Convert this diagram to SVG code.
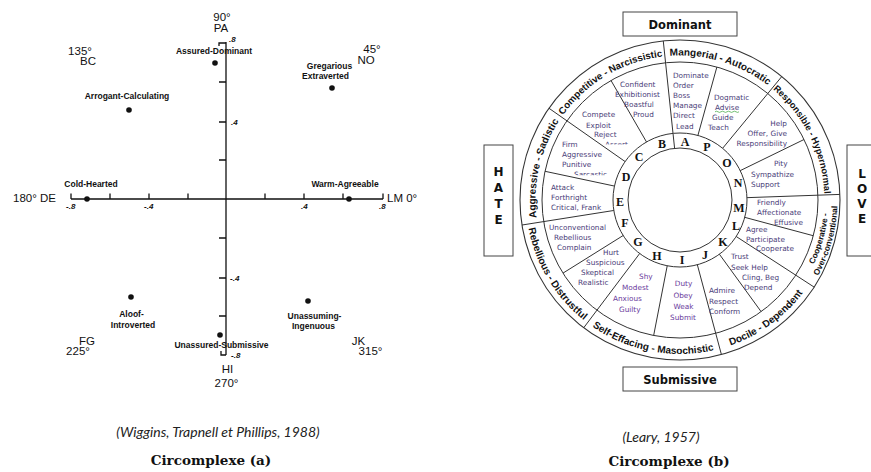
<svg xmlns="http://www.w3.org/2000/svg" width="871" height="472" viewBox="0 0 871 472">
<style>
.bg{fill:#fff}
.ax{stroke:#111;stroke-width:1.3;fill:none}
.dot{fill:#111}
.lb{font-family:"Liberation Sans",Arial,sans-serif;font-size:8.5px;font-weight:bold;fill:#111;text-anchor:middle}
.dg{font-family:"Liberation Sans",Arial,sans-serif;font-size:11.5px;fill:#111;text-anchor:middle}
.tk{font-family:"Liberation Sans",Arial,sans-serif;font-size:8px;font-weight:bold;font-style:italic;fill:#111}
.cap{font-family:Lato,"Open Sans",sans-serif;font-size:14px;font-style:italic;fill:#222;text-anchor:middle}
.capb{font-family:"DejaVu Serif","Liberation Serif",serif;font-size:13.5px;font-weight:bold;fill:#111;text-anchor:middle}
.ln{stroke:#333;stroke-width:1;fill:none}
.ring{stroke:#333;stroke-width:1.1;fill:#fff}
.w{font-family:"DejaVu Sans",Verdana,sans-serif;font-size:7.3px;fill:#4a3d78}
.wp{font-family:"DejaVu Sans",Verdana,sans-serif;font-size:7.3px;fill:#6a3a9c}
.oc{font-family:"Liberation Sans",Arial,sans-serif;font-size:10px;font-weight:bold;fill:#111}
.let{font-family:"Liberation Serif","Times New Roman",serif;font-size:12px;font-weight:bold;fill:#111;text-anchor:middle}
.box{fill:#fff;stroke:#444;stroke-width:1}
.bt{font-family:"DejaVu Sans",Verdana,sans-serif;font-size:11.5px;font-weight:bold;fill:#111;text-anchor:middle}
.vt{font-family:"DejaVu Sans",Verdana,sans-serif;font-size:12px;font-weight:bold;fill:#111;text-anchor:middle}
</style>
<defs>
<path id="pAgg" d="M537.28,222.6 A144.5,144.5 0 0 1 561.63,117.12"/>
<path id="pCom" d="M561.63,117.12 A144.5,144.5 0 0 1 664.9,56.29"/>
<path id="pMan" d="M664.9,56.29 A144.5,144.5 0 0 1 771.91,88.5"/>
<path id="pRes" d="M771.91,88.5 A144.5,144.5 0 0 1 824.41,194.96"/>
<path id="pCo1" d="M804.54,280.88 A148.5,148.5 0 0 0 828.41,194.82"/>
<path id="pCo2" d="M812.09,285.78 A157.5,157.5 0 0 0 837.4,194.5"/>
<path id="pDoc" d="M719.86,348.75 A154,154 0 0 0 809.16,283.87"/>
<path id="pSel" d="M587.32,322.99 A154,154 0 0 0 719.86,348.75"/>
<path id="pReb" d="M527.9,224.09 A154,154 0 0 0 587.32,322.99"/>
<clipPath id="cAssert"><rect x="600" y="130" width="40" height="14.6"/></clipPath>
<clipPath id="cSarc"><rect x="570" y="160" width="45" height="15.3"/></clipPath>
</defs>
<rect class="bg" x="0" y="0" width="871" height="472"/>

<!-- Circumplex (a) -->
<g id="chart-a">
<g id="axes">
<path class="ax" d="M71,199 H383 M226,42 V355"/>
<path class="ax" d="M71,193.5 V199 M110,193.5 V199 M149,193.5 V199 M188,193.5 V199 M265,193.5 V199 M304,193.5 V199 M343,193.5 V199 M383,193.5 V199"/>
<path class="ax" d="M219,82 H226 M219,122 H226 M219,160 H226 M219,238 H226 M219,278 H226 M219,316 H226"/>
<path class="ax" d="M219,46 V43 H226 M221,351 V355 H226"/>
</g>
<g id="ticks">
<text class="tk" x="229" y="42">.8</text>
<text class="tk" x="231" y="125">.4</text>
<text class="tk" x="230" y="281">-.4</text>
<text class="tk" x="231" y="358">-.8</text>
<text class="tk" x="66" y="209">-.8</text>
<text class="tk" x="144" y="209">-.4</text>
<text class="tk" x="301" y="209">.4</text>
<text class="tk" x="379" y="209">.8</text>
</g>
<g id="degrees">
<text class="dg" x="222" y="21">90°</text>
<text class="dg" x="221" y="31.5">PA</text>
<text class="dg" x="80" y="55">135°</text>
<text class="dg" x="88" y="65">BC</text>
<text class="dg" x="372" y="53">45°</text>
<text class="dg" x="366" y="64">NO</text>
<text class="dg" x="13" y="202" style="text-anchor:start">180° DE</text>
<text class="dg" x="387" y="202" style="text-anchor:start">LM 0°</text>
<text class="dg" x="87" y="345">FG</text>
<text class="dg" x="78" y="355">225°</text>
<text class="dg" x="358.5" y="345">JK</text>
<text class="dg" x="370.5" y="355">315°</text>
<text class="dg" x="227.5" y="373">HI</text>
<text class="dg" x="226.5" y="387">270°</text>
</g>
<g id="assured-dominant"><circle class="dot" cx="215" cy="63" r="2.8"/><text class="lb" x="214" y="54">Assured-Dominant</text></g>
<g id="gregarious"><circle class="dot" cx="332" cy="88" r="2.8"/><text class="lb" x="329.5" y="69">Gregarious</text><text class="lb" x="325.5" y="79">Extraverted</text></g>
<g id="arrogant"><circle class="dot" cx="129" cy="110" r="2.8"/><text class="lb" x="127" y="99">Arrogant-Calculating</text></g>
<g id="cold"><circle class="dot" cx="87" cy="199" r="2.8"/><text class="lb" x="91" y="187">Cold-Hearted</text></g>
<g id="warm"><circle class="dot" cx="349" cy="199" r="2.8"/><text class="lb" x="345" y="187">Warm-Agreeable</text></g>
<g id="aloof"><circle class="dot" cx="131" cy="297" r="2.8"/><text class="lb" x="131.5" y="317">Aloof-</text><text class="lb" x="133" y="328">Introverted</text></g>
<g id="unassuming"><circle class="dot" cx="308" cy="301" r="2.8"/><text class="lb" x="314.5" y="319">Unassuming-</text><text class="lb" x="313.5" y="329">Ingenuous</text></g>
<g id="unassured"><circle class="dot" cx="220" cy="335" r="2.8"/><text class="lb" x="221.5" y="348">Unassured-Submissive</text></g>
</g>

<!-- Circumplex (b) -->
<g id="chart-b">
<g id="rings">
<circle class="ring" cx="680" cy="200" r="160"/>
<circle class="ln" cx="680" cy="200" r="138"/>
<circle class="ln" cx="680" cy="200" r="67"/>
<circle class="ln" cx="680" cy="200" r="52"/>
</g>
<g id="connectors">
<path class="ln" d="M613.82,210.48 L521.97,225.03 M625.12,161.57 L548.94,108.23 M673,133.37 L663.28,40.88 M722.62,148.3 L781.77,76.54 M746.96,197.66 L839.9,194.42 M736.19,236.49 L814.19,287.14 M697.34,264.72 L721.41,354.55 M639.68,253.51 L583.71,327.78"/>
<path class="ln" d="M614.46,186.07 L545.02,171.31 M646.5,141.98 L611,80.49 M697.9,135.44 L716.88,67.02 M740.22,170.63 L804.03,139.5 M744.72,217.34 L813.3,235.72 M719.38,254.2 L761.11,311.64 M667.22,265.77 L653.67,335.46 M623.18,235.5 L562.97,273.13"/>
<path class="ln" d="M674.6,148.3 L673,133.37"/>
</g>
<g id="octants">
<text class="oc"><textPath href="#pAgg" startOffset="50%" text-anchor="middle">Aggressive - Sadistic</textPath></text>
<text class="oc" style="font-size:9.7px"><textPath href="#pCom" startOffset="50%" text-anchor="middle">Competitive - Narcissistic</textPath></text>
<text class="oc"><textPath href="#pMan" startOffset="50%" text-anchor="middle">Mangerial - Autocratic</textPath></text>
<text class="oc" style="font-size:9.2px"><textPath href="#pRes" startOffset="50%" text-anchor="middle">Responsible - Hypernormal</textPath></text>
<text class="oc" style="font-size:8.3px"><textPath href="#pCo1" startOffset="50%" text-anchor="middle">Cooperative -</textPath></text>
<text class="oc" style="font-size:8.3px"><textPath href="#pCo2" startOffset="50%" text-anchor="middle">Over-conventional</textPath></text>
<text class="oc"><textPath href="#pDoc" startOffset="50%" text-anchor="middle">Docile - Dependent</textPath></text>
<text class="oc"><textPath href="#pSel" startOffset="50%" text-anchor="middle">Self-Effacing - Masochistic</textPath></text>
<text class="oc"><textPath href="#pReb" startOffset="50%" text-anchor="middle">Rebellious - Distrustful</textPath></text>
</g>
<g id="letters">
<text class="let" x="685" y="146">A</text>
<text class="let" x="662" y="148">B</text>
<text class="let" x="639" y="161">C</text>
<text class="let" x="626" y="181">D</text>
<text class="let" x="620" y="206">E</text>
<text class="let" x="625" y="227">F</text>
<text class="let" x="638" y="246">G</text>
<text class="let" x="657" y="260">H</text>
<text class="let" x="682" y="264">I</text>
<text class="let" x="705" y="259">J</text>
<text class="let" x="723" y="246">K</text>
<text class="let" x="736" y="230">L</text>
<text class="let" x="739" y="212">M</text>
<text class="let" x="738" y="187">N</text>
<text class="let" x="727" y="167">O</text>
<text class="let" x="707" y="151">P</text>
</g>
<g id="sector-a"><text class="w" x="673" y="78">Dominate</text><text class="w" x="673" y="88">Order</text><text class="w" x="673" y="98">Boss</text><text class="w" x="673" y="108">Manage</text><text class="w" x="673" y="118">Direct</text><text class="w" x="676" y="128.5">Lead</text></g>
<g id="sector-p"><text class="w" x="714" y="100">Dogmatic</text><text class="w" x="715" y="110">Advise</text><path d="M715,111.8 q1.5,-1.2 3,0 t3,0 t3,0 t3,0 t3,0 t3,0 t3,0 t3,0" stroke="#3aa53a" stroke-width="0.7" fill="none"/><text class="w" x="712" y="120">Guide</text><text class="w" x="708" y="130">Teach</text></g>
<g id="sector-o"><text class="w" x="787" y="126" text-anchor="end">Help</text><text class="w" x="787" y="136" text-anchor="end">Offer, Give</text><text class="w" x="787" y="146" text-anchor="end">Responsibility</text></g>
<g id="sector-n"><text class="w" x="774" y="166">Pity</text><text class="w" x="751" y="177">Sympathize</text><text class="w" x="751" y="187">Support</text></g>
<g id="sector-m"><text class="w" x="757" y="205">Friendly</text><text class="w" x="757" y="215">Affectionate</text><text class="w" x="774" y="225">Effusive</text></g>
<g id="sector-l"><text class="w" x="746" y="232">Agree</text><text class="w" x="746" y="242">Participate</text><text class="w" x="756" y="251">Cooperate</text></g>
<g id="sector-k"><text class="w" x="731" y="259">Trust</text><text class="w" x="731" y="270">Seek Help</text><text class="w" x="742" y="280">Cling, Beg</text><text class="w" x="744" y="290">Depend</text></g>
<g id="sector-j"><text class="w" x="709" y="293">Admire</text><text class="w" x="709" y="304">Respect</text><text class="w" x="709" y="314">Conform</text></g>
<g id="sector-i"><text class="wp" x="683.5" y="286" text-anchor="middle">Duty</text><text class="wp" x="683" y="298" text-anchor="middle">Obey</text><text class="wp" x="683.5" y="309" text-anchor="middle">Weak</text><text class="wp" x="683" y="320" text-anchor="middle">Submit</text></g>
<g id="sector-h"><text class="wp" x="639" y="279">Shy</text><text class="wp" x="622" y="290">Modest</text><text class="wp" x="613" y="301">Anxious</text><text class="wp" x="619" y="312">Guilty</text></g>
<g id="sector-g"><text class="w" x="603" y="255">Hurt</text><text class="w" x="586" y="265">Suspicious</text><text class="w" x="581" y="275">Skeptical</text><text class="w" x="578" y="285">Realistic</text></g>
<g id="sector-f"><text class="w" x="549" y="230">Unconventional</text><text class="w" x="554" y="240">Rebellious</text><text class="w" x="557" y="250">Complain</text></g>
<g id="sector-e"><text class="w" x="551" y="190">Attack</text><text class="w" x="551" y="200">Forthright</text><text class="w" x="551" y="210">Critical, Frank</text></g>
<g id="sector-d"><text class="w" x="562" y="147">Firm</text><text class="w" x="562" y="157">Aggressive</text><text class="w" x="562" y="167">Punitive</text><text class="w" x="574" y="177" clip-path="url(#cSarc)">Sarcastic</text></g>
<g id="sector-c"><text class="w" x="582" y="117">Compete</text><text class="w" x="586" y="128">Exploit</text><text class="w" x="594" y="137">Reject</text><text class="w" x="605" y="147" clip-path="url(#cAssert)">Assert</text></g>
<g id="sector-b"><text class="w" x="620" y="87">Confident</text><text class="w" x="615" y="97">Exhibitionist</text><text class="w" x="624" y="107">Boastful</text><text class="w" x="633" y="117">Proud</text></g>
<g id="dominant"><rect class="box" x="623" y="12" width="114" height="24"/><text class="bt" x="680" y="28.5">Dominant</text></g>
<g id="submissive"><rect class="box" x="623" y="367" width="114" height="24"/><text class="bt" x="680" y="383.5">Submissive</text></g>
<g id="hate"><rect class="box" x="484" y="145" width="29" height="111"/><text class="vt" x="498.5" y="176">H</text><text class="vt" x="498.5" y="192">A</text><text class="vt" x="498.5" y="208">T</text><text class="vt" x="498.5" y="224">E</text></g>
<g id="love"><rect class="box" x="847" y="145" width="30" height="111"/><text class="vt" x="862" y="178">L</text><text class="vt" x="862" y="193">O</text><text class="vt" x="862" y="208">V</text><text class="vt" x="862" y="223">E</text></g>
</g>

<g id="captions">
<text class="cap" x="218" y="437">(Wiggins, Trapnell et Phillips, 1988)</text>
<text class="capb" x="211" y="465">Circomplexe (a)</text>
<text class="cap" x="661" y="442">(Leary, 1957)</text>
<text class="capb" x="669" y="466">Circomplexe (b)</text>
</g>
</svg>
